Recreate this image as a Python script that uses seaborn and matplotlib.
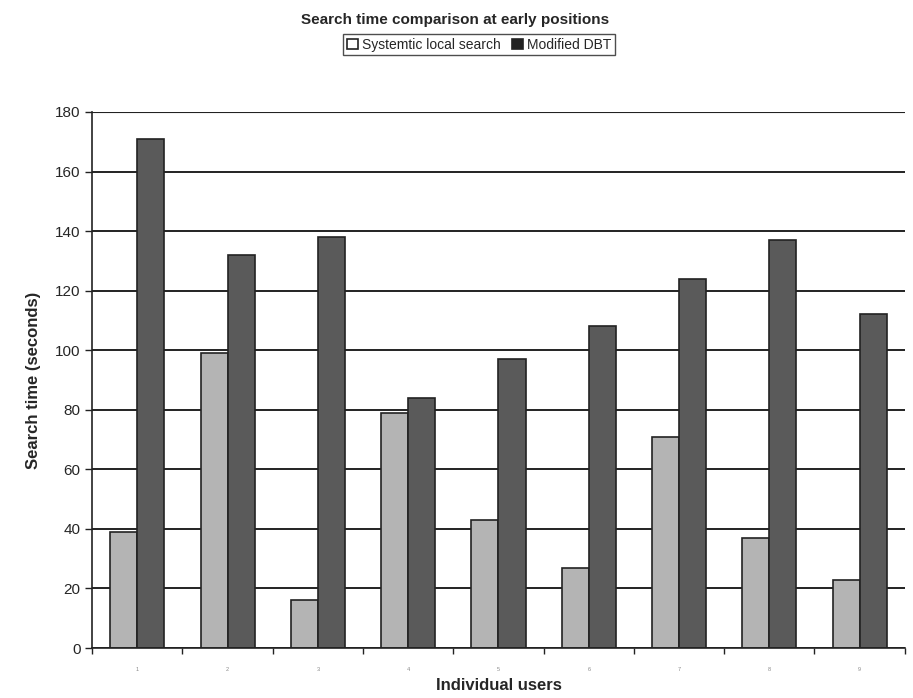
import pandas as pd
import matplotlib.pyplot as plt
import seaborn as sns

# Valores
users = ['1', '2', '3', '4', '5', '6', '7', '8', '9']
local_search = [39, 99, 16, 79, 43, 27, 71, 37, 23]
modified_dbt = [171, 132, 138, 84, 97, 108, 124, 137, 112]
series_names = ['Systemtic local search', 'Modified DBT']

df = pd.DataFrame({
    'user': users * 2,
    'time': local_search + modified_dbt,
    'method': [series_names[0]] * len(users) + [series_names[1]] * len(users),
})

sns.set_style('white')
plt.rcParams['font.family'] = ['Liberation Sans', 'DejaVu Sans']

fig = plt.figure(figsize=(9.13, 6.98), dpi=100)
ax = fig.add_axes([0.101, 0.0716, 0.89, 0.768])

ax.set_axisbelow(True)
ax.yaxis.grid(True, color='#222222', linewidth=1.4)

sns.barplot(data=df, x='user', y='time', hue='method', order=users,
            palette=['#b4b4b4', '#5a5a5a'], width=0.6, edgecolor='#222222',
            linewidth=1.2, ax=ax, legend=True)

ax.set_ylim(0, 180)
ax.set_yticks(range(0, 181, 20))
ax.set_xlim(-0.5, len(users) - 0.5)
ax.tick_params(axis='y', labelsize=11, length=5, width=1, direction='out', left=True, color='#222222')
ax.tick_params(axis='x', labelsize=4, length=0, labelcolor='#888888', pad=14)
ax.set_xticks(range(len(users)), minor=False)
ax.set_xticks([i + 0.5 for i in range(-1, len(users))], minor=True)
ax.tick_params(axis='x', which='minor', length=4, width=1, direction='out', bottom=True, color='#222222')

# linha do topo mais fina
ax.get_ygridlines()[-1].set_linewidth(0.8)

for s in ['top', 'right']:
    ax.spines[s].set_visible(False)
for s in ['left', 'bottom']:
    ax.spines[s].set_color('#222222')
    ax.spines[s].set_linewidth(1.2)

ax.set_xlabel('Individual users', fontsize=12, fontweight='bold', labelpad=4)
ax.set_ylabel('Search time (seconds)', fontsize=12, fontweight='bold', labelpad=10)
fig.suptitle('Search time comparison at early positions', fontsize=11, fontweight='bold',
             x=0.498, y=0.982)

leg = ax.legend(loc='center', bbox_to_anchor=(0.476, 1.125), ncol=2, frameon=True,
                fontsize=10, handlelength=0.8, handleheight=0.8, handletextpad=0.3,
                columnspacing=0.8, borderpad=0.25, fancybox=False, edgecolor='#222222')
leg.get_frame().set_linewidth(1.0)
for h in leg.legend_handles:
    h.set_edgecolor('#222222')
leg.legend_handles[0].set_facecolor('white')
leg.legend_handles[1].set_facecolor('#222222')

fig.savefig('out.png', dpi=100)
